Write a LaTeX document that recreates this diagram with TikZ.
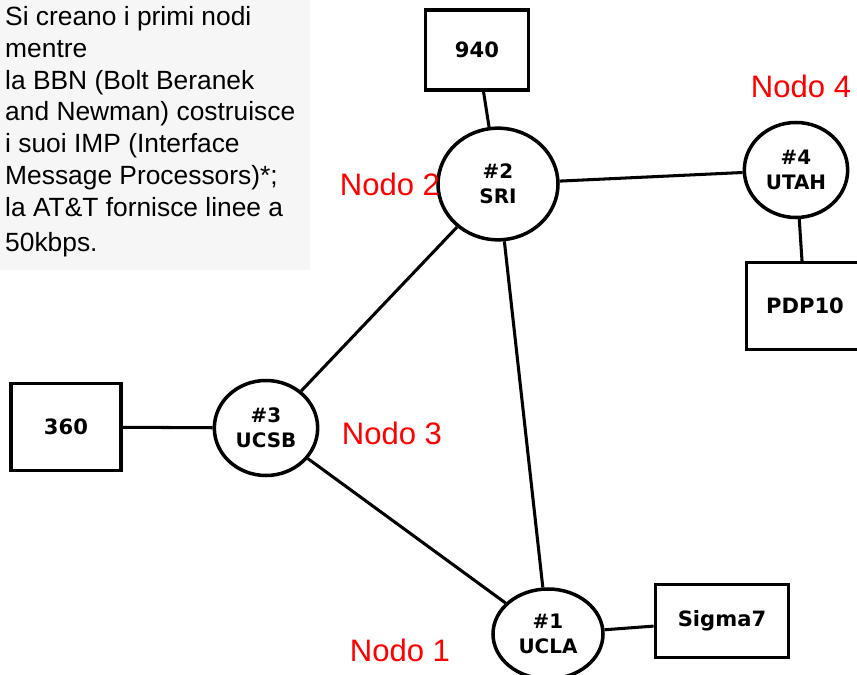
\documentclass[tikz,border=0pt]{standalone}
\usepackage{fontspec}
\setmainfont{Liberation Sans}
\newfontfamily\handfont{DejaVu Sans}
\usetikzlibrary{shapes.geometric}
\definecolor{notegray}{HTML}{F6F6F6}
\tikzstyle{host} = [rectangle, draw=black, line width=3pt, minimum width=3.1cm, minimum height=2.4cm, font=\handfont\bfseries\fontsize{18}{18}\selectfont]
\tikzstyle{imp} = [ellipse, draw=black, line width=3pt, minimum width=3.2cm, minimum height=3.0cm, align=center, font=\handfont\bfseries\fontsize{17}{21}\selectfont]
\tikzstyle{link} = [line width=2.6pt]
\tikzstyle{tag} = [text=red, font=\fontsize{26.5}{26.5}\selectfont]

\begin{document}
\begin{tikzpicture}[x=0.03cm, y=-0.03cm]
    \useasboundingbox (0,0) rectangle (857,675);
    \fill [notegray] (0,0) rectangle (310,270);
    \node (note) [anchor=north west, align=left, inner sep=0pt, font=\fontsize{22.5}{27.2}\selectfont] at (5,6)
      {Si creano i primi nodi\\ mentre\\ la BBN (Bolt Beranek\\ and Newman) costruisce\\
       i suoi IMP (Interface\\ Message Processors)*;\\ la AT\&T fornisce linee a\\[3pt] 50kbps.};

    \node (sri)    [imp, minimum width=3.6cm, minimum height=3.35cm] at (498,184) {\#2\\ SRI};
    \node (utah)   [imp, minimum width=3.1cm, minimum height=2.85cm] at (796,170) {\#4\\ UTAH};
    \node (ucsb)   [imp, minimum width=3.1cm, minimum height=2.85cm] at (266,428) {\#3\\ UCSB};
    \node (ucla)   [imp, minimum width=3.3cm, minimum height=2.7cm] at (548,634) {\#1\\ UCLA};

    \node (sds940) [host] at (477,50)  {940};
    \node (pdp10)  [host, minimum width=3.5cm, minimum height=2.6cm] at (805,306) {PDP10};
    \node (ibm360) [host, minimum width=3.3cm, minimum height=2.6cm] at (66,427)  {360};
    \node (sigma7) [host, minimum width=4.0cm, minimum height=2.2cm] at (722,621) {Sigma7};

    \node (tag2) [tag] at (390,184) {Nodo 2};
    \node (tag4) [tag] at (801,86)  {Nodo 4};
    \node (tag3) [tag] at (392,433) {Nodo 3};
    \node (tag1) [tag] at (400,650) {Nodo 1};

    \draw [link] (sds940) -- (sri);
    \draw [link] (sri)    -- (utah);
    \draw [link] (utah)   -- (pdp10);
    \draw [link] (sri)    -- (ucsb);
    \draw [link] (sri)    -- (ucla);
    \draw [link] (ucsb)   -- (ucla);
    \draw [link] (ibm360) -- (ucsb);
    \draw [link] (ucla)   -- (sigma7);
  \end{tikzpicture}
\end{document}
